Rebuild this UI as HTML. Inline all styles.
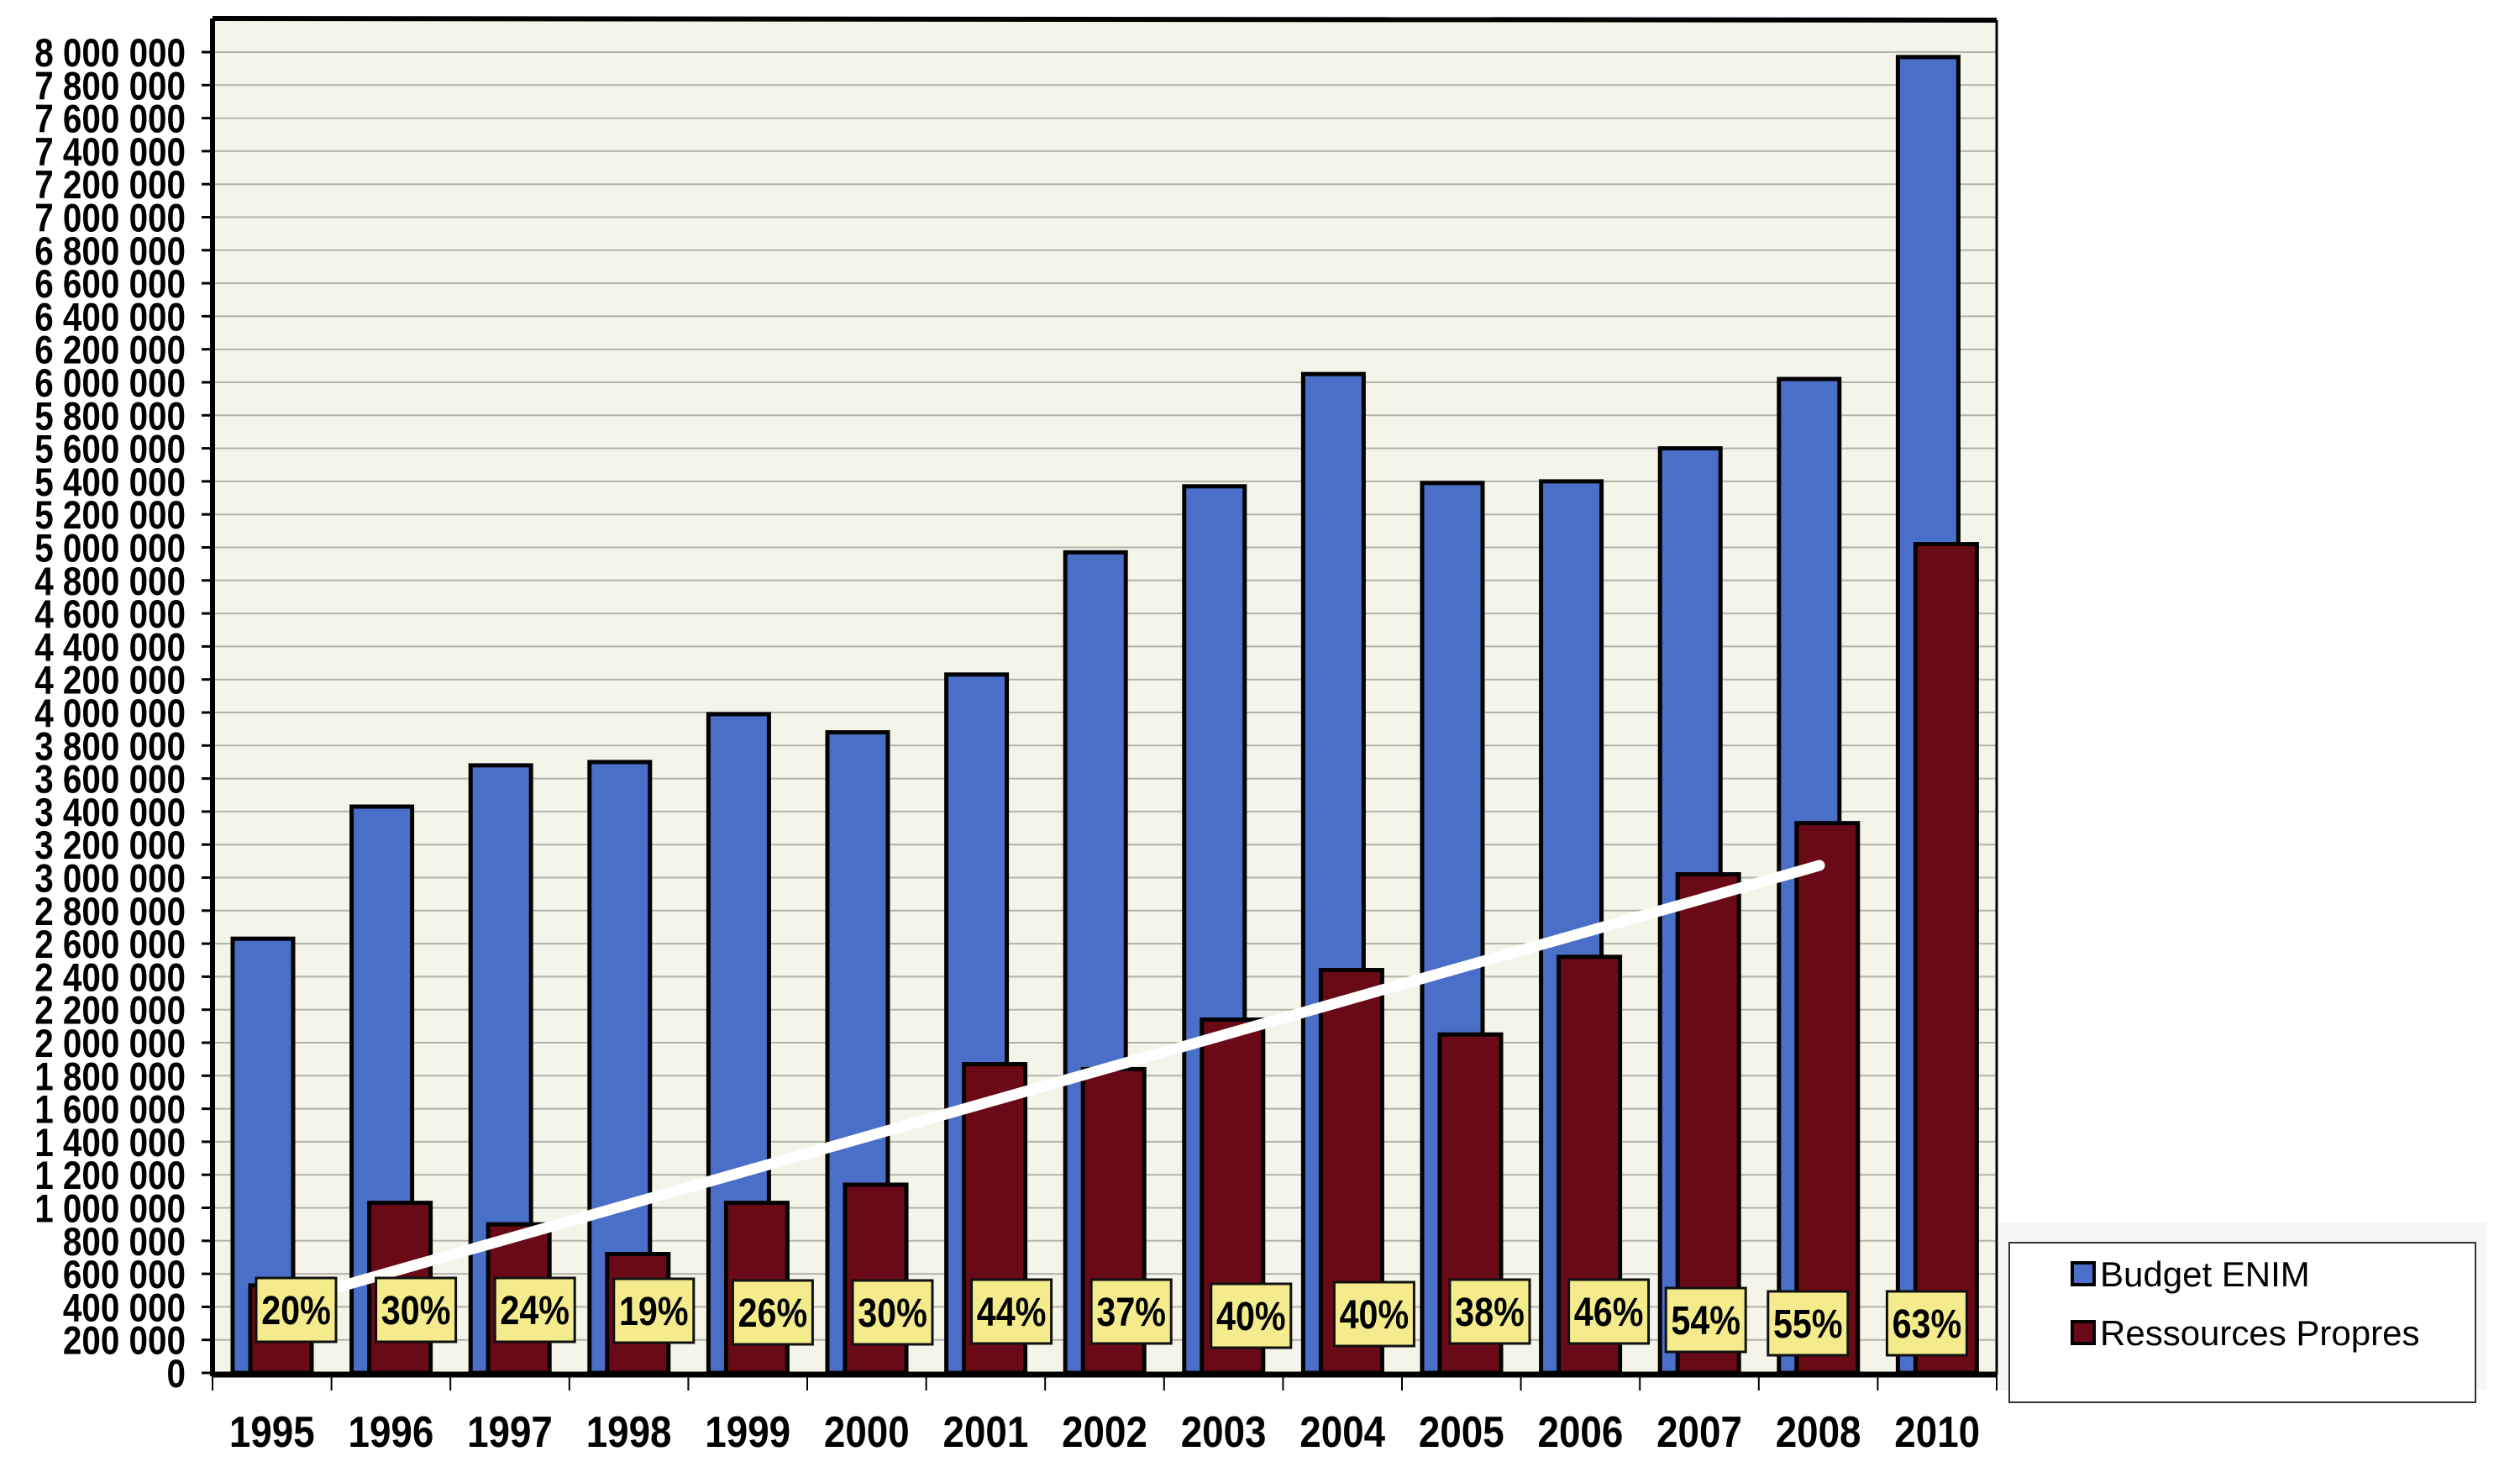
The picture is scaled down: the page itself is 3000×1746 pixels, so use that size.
<!DOCTYPE html>
<html><head><meta charset="utf-8">
<style>
html,body{margin:0;padding:0;background:#fff;}
svg{display:block;}
text{font-family:"Liberation Sans",Arial,sans-serif;font-weight:bold;}
</style></head>
<body>
<svg width="3000" height="1746" viewBox="0 0 3000 1746" xmlns="http://www.w3.org/2000/svg">
<rect x="0" y="0" width="3000" height="1746" fill="#fff"/>
<rect x="253" y="23" width="2124" height="1611" fill="#f5f4e8"/>
<g id="grid" stroke="#b4b2ac" stroke-width="2"></g>
<g id="ylab" font-size="47" text-anchor="end"></g>
<g id="bars"></g>
<line x1="402" y1="1532" x2="2166" y2="1030" stroke="#fff" stroke-width="13" stroke-linecap="round"/>
<g id="boxes"></g>
<line x1="253" y1="22" x2="2377" y2="24" stroke="#000" stroke-width="6"/>
<line x1="2377" y1="24" x2="2377" y2="1636" stroke="#000" stroke-width="3"/>
<line x1="253" y1="22" x2="253" y2="1638" stroke="#000" stroke-width="6"/>
<line x1="253" y1="1636" x2="2377" y2="1636" stroke="#000" stroke-width="7"/>
<g id="xt" stroke="#000" stroke-width="2"></g>
<g id="xlab" font-size="52" text-anchor="middle"></g>
<rect x="2380" y="1455" width="580" height="200" fill="#f6f6f6"/>
<rect x="2392" y="1479" width="555" height="190" fill="#fff" stroke="#333" stroke-width="2"/>
<rect x="2467" y="1503" width="26" height="26" fill="#4a6fc9" stroke="#000" stroke-width="4"/>
<text x="2500" y="1531" font-size="42" style="font-weight:normal">Budget ENIM</text>
<rect x="2467" y="1573" width="26" height="26" fill="#6b0a17" stroke="#000" stroke-width="4"/>
<text x="2500" y="1601" font-size="42" style="font-weight:normal">Ressources Propres</text>
</svg>
<script>
const NS="http://www.w3.org/2000/svg";
const Y0=1634, PER=39.3/200000;
const y=v=>Y0-v*PER;
function el(p,t,a,txt){const e=document.createElementNS(NS,t);for(const k in a)e.setAttribute(k,a[k]);if(txt!==undefined)e.textContent=txt;document.getElementById(p).appendChild(e);return e;}
for(let v=0;v<=8000000;v+=200000){
  const yy=y(v);
  if(v>0) el('grid','line',{x1:255,y1:yy,x2:2376,y2:yy});
  el('grid','line',{x1:240,y1:yy,x2:253,y2:yy,stroke:'#000','stroke-width':3});
  const s=v===0?'0':(v/1e6>=1?Math.floor(v/1e6)+' '+String((v%1e6)/1000).padStart(3,'0')+' 000':(v/1000)+' 000');
  el('ylab','text',{x:221,y:yy+17,transform:`translate(${221} 0) scale(0.86 1) translate(${-221} 0)`},s);
}
const years=['1995','1996','1997','1998','1999','2000','2001','2002','2003','2004','2005','2006','2007','2008','2010'];
const blue=[2.63,3.43,3.68,3.70,3.99,3.88,4.23,4.97,5.37,6.05,5.39,5.40,5.60,6.02,7.97];
const red=[0.53,1.03,0.9,0.72,1.03,1.14,1.87,1.84,2.14,2.44,2.05,2.52,3.02,3.33,5.02];
const pct=['20%','30%','24%','19%','26%','30%','44%','37%','40%','40%','38%','46%','54%','55%','63%'];
const boff=[52,53,53,53,53,54,54,55,56,61,57,57,31,11,11];
const btop=[1521,1521,1521,1522,1524,1524,1523,1523,1528,1526,1523,1523,1533,1537,1537];
const W=141.6, L=253;
years.forEach((yr,i)=>{
  const c=L+i*W;
  const bt=y(blue[i]*1e6), rt=y(red[i]*1e6);
  el('bars','rect',{x:c+24,y:bt,width:72,height:Y0-bt,fill:'#4a6fc9',stroke:'#000','stroke-width':5});
  el('bars','rect',{x:c+45,y:rt,width:73,height:Y0-rt,fill:'#6b0a17',stroke:'#000','stroke-width':5});
  const bx=c+boff[i]+47.5;
  el('boxes','rect',{x:c+boff[i],y:btop[i],width:95,height:76,fill:'#f4ec8c',stroke:'#111','stroke-width':3});
  el('boxes','text',{x:bx,y:btop[i]+55,'font-size':48,'text-anchor':'middle',transform:`translate(${bx} 0) scale(0.86 1) translate(${-bx} 0)`},pct[i]);
  el('xt','line',{x1:c,y1:1636,x2:c,y2:1655});
  el('xlab','text',{x:c+W/2,y:1722,transform:`translate(${c+W/2} 0) scale(0.88 1) translate(${-(c+W/2)} 0)`},yr);
});
el('xt','line',{x1:L+15*W,y1:1636,x2:L+15*W,y2:1655});
</script>
</body></html>
